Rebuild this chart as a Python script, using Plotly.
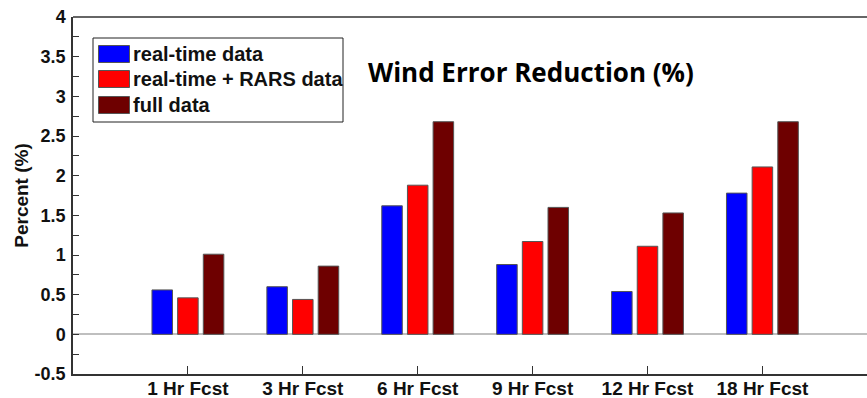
import plotly.graph_objects as go

categories = ["1 Hr Fcst", "3 Hr Fcst", "6 Hr Fcst", "9 Hr Fcst", "12 Hr Fcst", "18 Hr Fcst"]
series_names = ["real-time data", "real-time + RARS data", "full data"]
realtime = [0.56, 0.60, 1.62, 0.88, 0.54, 1.78]
realtime_rars = [0.46, 0.44, 1.88, 1.17, 1.11, 2.11]
full = [1.01, 0.86, 2.68, 1.60, 1.53, 2.68]
colors = ["#0000FF", "#FF0000", "#6E0000"]
y_ticks = [-0.5, 0, 0.5, 1, 1.5, 2, 2.5, 3, 3.5, 4]
y_tick_labels = ["-0.5", "0", "0.5", "1", "1.5", "2", "2.5", "3", "3.5", "4"]

W, H = 867, 398
L, R, T, B = 73, 0, 17, 24
PW, PH = W - L - R, H - T - B

def px(x):
    return (x - L) / PW

def py(y):
    return (H - B - y) / PH

fig = go.Figure()
for name, vals, col in zip(series_names, [realtime, realtime_rars, full], colors):
    fig.add_trace(go.Bar(x=categories, y=vals, name=name, marker_color=col,
                         marker_line=dict(color="#555555", width=1), showlegend=False))

AX = dict(family="Liberation Sans, Arial, sans-serif", size=19, color="#111111", weight="bold")

fig.update_layout(
    width=W, height=H,
    margin=dict(l=L, r=R, t=T, b=B, autoexpand=False),
    paper_bgcolor="white", plot_bgcolor="white",
    barmode="group", bargap=0.33, bargroupgap=0.2,
    xaxis=dict(range=[-1, -1 + PW / 114.9], showline=True, linecolor="#333333", linewidth=1.5,
               mirror=False, ticks="inside", ticklen=8, tickcolor="#333333", tickwidth=1,
               showgrid=False, zeroline=False, tickfont=AX, fixedrange=True, automargin=False,
               ticklabelstandoff=-4),
    yaxis=dict(range=[-0.5, 4], tickvals=y_ticks, ticktext=y_tick_labels,
               showline=True, mirror=False, linecolor="#333333", linewidth=1.5,
               ticks="inside", ticklen=6, tickcolor="#333333",
               minor=dict(dtick=0.25, ticks="inside", ticklen=6, tickcolor="#333333"),
               showgrid=False, zeroline=True, zerolinecolor="#bfbfbf", zerolinewidth=2,
               tickfont=dict(family="Liberation Sans, Arial, sans-serif", size=18, color="#111111", weight="bold"),
               ticklabelstandoff=2, automargin=False, fixedrange=True,
               title=dict(text="Percent (%)", standoff=1,
                          font=dict(family="Liberation Sans, Arial, sans-serif", size=19, color="#111111", weight="bold"))),
)

# Top frame line
fig.add_shape(type="line", xref="paper", yref="paper", x0=0, x1=1, y0=1, y1=1,
              line=dict(color="#333333", width=1.5), layer="above")

# Title text
fig.add_annotation(text="<b>Wind Error Reduction (%)</b>", xref="paper", yref="paper",
                   x=px(531), y=py(72), showarrow=False, xanchor="center", yanchor="middle",
                   font=dict(family="Open Sans, sans-serif", size=26, color="#000000"))

# Legend box
fig.add_shape(type="rect", xref="paper", yref="paper", x0=px(93), x1=px(343), y0=py(122), y1=py(38),
              line=dict(color="#222222", width=1), fillcolor="white", layer="above")
row_centers = [54, 79, 105]
for name, col, yc in zip(series_names, colors, row_centers):
    fig.add_shape(type="rect", xref="paper", yref="paper", x0=px(98.5), x1=px(129.5),
                  y0=py(yc + 8.5), y1=py(yc - 8.5), line=dict(color="#555555", width=1),
                  fillcolor=col, layer="above")
    fig.add_annotation(text=name, xref="paper", yref="paper", x=px(131), y=py(yc),
                       showarrow=False, xanchor="left", yanchor="middle",
                       font=dict(family="Liberation Sans, Arial, sans-serif", size=20, color="#111111", weight="bold"))

fig.write_html("out.html", config={"displayModeBar": False},
               post_script="document.documentElement.style.overflow='hidden';document.body.style.margin='0';document.body.style.overflow='hidden';")
